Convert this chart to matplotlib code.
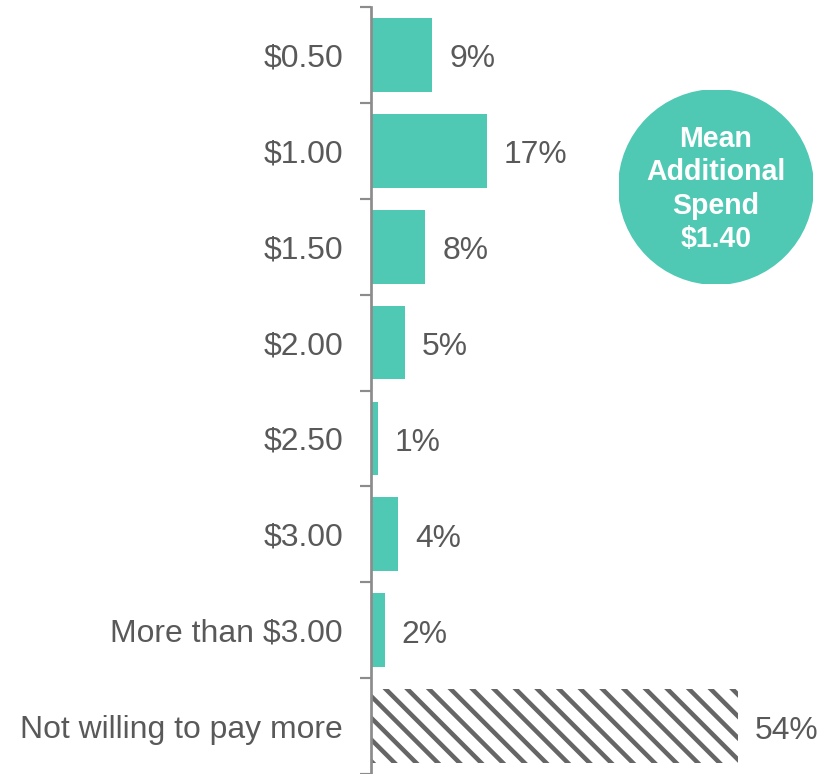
import numpy as np
import matplotlib.pyplot as plt
from matplotlib.patches import Circle

plt.rcParams['font.family'] = ['Liberation Sans', 'DejaVu Sans']
plt.rcParams['hatch.linewidth'] = 2.5

# data
categories = ["$0.50", "$1.00", "$1.50", "$2.00", "$2.50", "$3.00",
              "More than $3.00", "Not willing to pay more"]
values = [9, 17, 8, 5, 1, 4, 2, 54]
mean_spend = "$1.40"

teal = "#4FC9B4"
grey_txt = "#595959"
grey_ax = "#8C8C8C"

W, H, DPI = 838, 774, 130
fig = plt.figure(figsize=(W / DPI, H / DPI), dpi=DPI)
ax = fig.add_axes([371 / W, 0, 462 / W, 767 / H])

y = np.arange(len(values))
for i, v in enumerate(values):
    if i == len(values) - 1:
        ax.barh(i, v, height=0.78, color="white", edgecolor="#666666",
                hatch="\\\\", linewidth=0)
    else:
        ax.barh(i, v, height=0.77, color=teal, linewidth=0)
    ax.annotate(f"{v}%", (v, i), xytext=(9.4, -2.5), textcoords="offset points",
                ha="left", va="center", fontsize=17.7, color=grey_txt)

ax.set_xlim(0, 68)
ax.set_ylim(len(values) - 0.5, -0.5)

# boundaries as major ticks, labels on minor ticks
ax.set_yticks(np.arange(len(values) + 1) - 0.5)
ax.set_yticklabels([])
ax.set_yticks(y, minor=True)
ax.set_yticklabels(categories, minor=True, fontsize=17.7, color=grey_txt)
ax.tick_params(axis="y", which="major", length=6, width=1.2, color=grey_ax)
ax.tick_params(axis="y", which="minor", length=0, pad=15.5)
for t in ax.get_yticklabels(minor=True):
    t.set_y(t.get_position()[1])
ax.set_xticks([])

for s in ["top", "right", "bottom"]:
    ax.spines[s].set_visible(False)
ax.spines["left"].set_color(grey_ax)
ax.spines["left"].set_linewidth(1.5)

# mean badge
r = 97
cx, cy = 716, 187
cax = fig.add_axes([(cx - r) / W, 1 - (cy + r) / H, 2 * r / W, 2 * r / H])
cax.set_xlim(0, 1)
cax.set_ylim(0, 1)
cax.axis("off")
cax.add_patch(Circle((0.5, 0.5), 0.5, color=teal, transform=cax.transAxes))
cax.text(0.5, 0.49, "Mean\nAdditional\nSpend\n" + mean_spend, ha="center",
         va="center", color="white", fontsize=15.8, fontweight="bold",
         linespacing=1.25, transform=cax.transAxes)

fig.savefig("out.png", dpi=DPI)
